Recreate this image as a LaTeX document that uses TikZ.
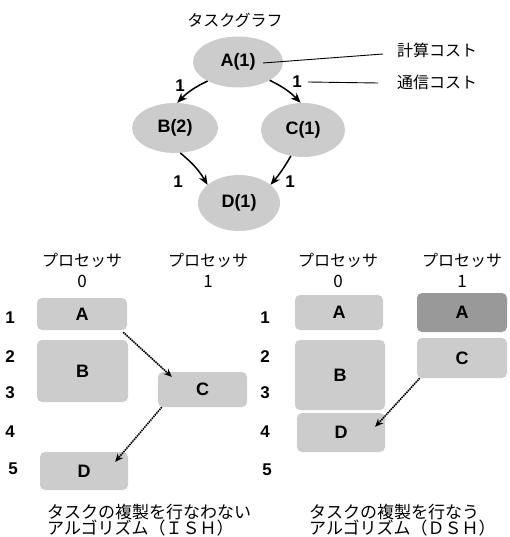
\documentclass[tikz,border=0pt]{standalone}
\usepackage{fontspec}
\setmainfont{Liberation Sans}
\newfontfamily\jp{Noto Sans CJK JP}
\usetikzlibrary{shapes.geometric,arrows.meta}
\begin{document}
\begin{tikzpicture}[x=1pt,y=-1pt,
 tnode/.style={ellipse, fill=gray!40, inner sep=0pt, font=\fontsize{18}{18}\selectfont\bfseries},
 jtxt/.style={font=\jp\fontsize{16}{17}\selectfont, inner sep=0pt},
 jcap/.style={font=\jp\fontsize{17}{17}\selectfont, inner sep=0pt},
 gedge/.style={-{Stealth[length=10pt,width=8pt]}, line width=1.5pt},
 lbl/.style={font=\fontsize{17}{17}\selectfont\bfseries, inner sep=0pt},
 tbox/.style={rounded corners=5pt, fill=gray!40, inner sep=0pt, font=\fontsize{18}{18}\selectfont\bfseries},
 dbox/.style={tbox, fill=gray!80},
 msg/.style={-{Stealth[length=8pt,width=7pt]}, line width=1.6pt, dash pattern=on 1.5pt off 0.8pt},
 num/.style={font=\jp\fontsize{17}{17}\selectfont, inner sep=0pt},
 thin/.style={line width=0.9pt}
]
\useasboundingbox (0,0) rectangle (510,537);

% ---------- task graph ----------
\node[jtxt] (title) at (235,20) {タスクグラフ};
\node[tnode, minimum width=90pt, minimum height=51pt] (A) at (238,62) {A(1)};
\node[tnode, minimum width=86pt, minimum height=50pt] (B) at (175,128) {B(2)};
\node[tnode, minimum width=84pt, minimum height=54pt] (C) at (303,130) {C(1)};
\node[tnode, minimum width=82pt, minimum height=56pt] (D) at (239,203) {D(1)};

\draw[gedge] (A.212) to[bend right=10] (B.85);
\draw[gedge] (A.330) to[bend left=10] (C.95);
\draw[gedge] (B.282) to[bend left=10] (D.150);
\draw[gedge] (C.245) to[bend left=5] (D.30);

\node[lbl] (l1) at (180,86) {1};
\node[lbl] (l2) at (297,82) {1};
\node[lbl] (l3) at (178,182) {1};
\node[lbl] (l4) at (290,182) {1};

\node[jtxt] (comp) at (437,50) {計算コスト};
\node[jtxt] (comm) at (437,82) {通信コスト};
\coordinate (ca) at (263,63);
\coordinate (cb) at (383,54);
\coordinate (cc) at (378,83);
\draw[thin] (ca) -- (cb);
\draw[thin] (l2.east) ++(6,0) coordinate (cd) (cd) -- (cc);

% ---------- left schedule (ISH) ----------
\node[jtxt] (lp0) at (82,260) {プロセッサ};
\node[num] (ln0) at (82,281) {0};
\node[jtxt] (lp1) at (208,260) {プロセッサ};
\node[num] (ln1) at (208,281) {1};

\node[lbl] (lr1) at (10,318) {1};
\node[lbl] (lr2) at (10,357) {2};
\node[lbl] (lr3) at (10,393) {3};
\node[lbl] (lr4) at (10,432) {4};
\node[lbl] (lr5) at (13,469) {5};

\node[tbox, minimum width=90pt, minimum height=32pt] (LA) at (82,314) {A};
\node[tbox, minimum width=91pt, minimum height=62pt] (LB) at (82.5,371) {B};
\node[tbox, minimum width=89pt, minimum height=35pt] (LC) at (202.5,389.5) {C};
\node[tbox, minimum width=88pt, minimum height=38pt] (LD) at (84,471) {D};

\draw[msg] ([xshift=-4pt,yshift=-2pt]LA.south east) -- ([xshift=14pt,yshift=-5pt]LC.north west);
\draw[msg] ([xshift=4pt]LC.south west) -- ([xshift=-13pt,yshift=-10pt]LD.north east);

\node[jcap, anchor=west] (lcap1) at (47,512) {タスクの複製を行なわない};
\node[jcap, anchor=west] (lcap2) at (47,528) {アルゴリズム（ＩＳＨ）};

% ---------- right schedule (DSH) ----------
\node[jtxt] (rp0) at (338,260) {プロセッサ};
\node[num] (rn0) at (338,281) {0};
\node[jtxt] (rp1) at (462,260) {プロセッサ};
\node[num] (rn1) at (462,281) {1};

\node[lbl] (rr1) at (265,318) {1};
\node[lbl] (rr2) at (265,357) {2};
\node[lbl] (rr3) at (265,393) {3};
\node[lbl] (rr4) at (265,432) {4};
\node[lbl] (rr5) at (267,470) {5};

\node[tbox, minimum width=88pt, minimum height=35pt] (RA) at (339,312.5) {A};
\node[tbox, minimum width=90pt, minimum height=70pt] (RB) at (340,375) {B};
\node[tbox, minimum width=88pt, minimum height=39pt] (RD) at (341,432.5) {D};
\node[dbox, minimum width=90pt, minimum height=39pt] (RA1) at (462,312.5) {A};
\node[tbox, minimum width=90pt, minimum height=40pt] (RC) at (462,358) {C};

\draw[msg] ([xshift=3pt]RC.south west) -- ([xshift=-10pt,yshift=-14pt]RD.north east);

\node[jcap, anchor=west] (rcap1) at (309,512) {タスクの複製を行なう};
\node[jcap, anchor=west] (rcap2) at (309,528) {アルゴリズム（ＤＳＨ）};
\end{tikzpicture}
\end{document}
